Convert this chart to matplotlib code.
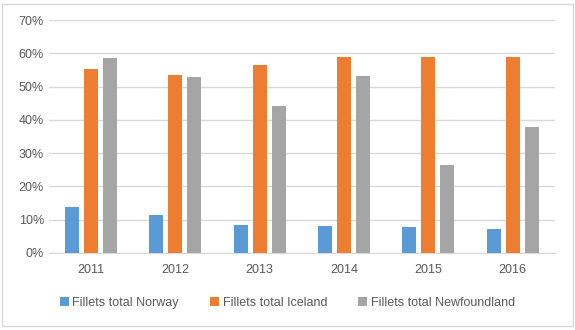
import matplotlib
matplotlib.use("Agg")
import matplotlib.pyplot as plt
import numpy as np
from matplotlib.patches import Rectangle

years = ["2011", "2012", "2013", "2014", "2015", "2016"]
norway = [13.8, 11.3, 8.3, 8.0, 7.8, 7.1]
iceland = [55.3, 53.5, 56.5, 58.8, 58.9, 58.9]
newfoundland = [58.5, 52.8, 44.2, 53.2, 26.4, 37.8]
series_names = ["Fillets total Norway", "Fillets total Iceland", "Fillets total Newfoundland"]
yticks = [0, 10, 20, 30, 40, 50, 60, 70]

colors = ["#5B9BD5", "#ED7D31", "#A5A5A5"]
plt.rcParams['font.family'] = ['Liberation Sans', 'DejaVu Sans']

fig = plt.figure(figsize=(5.75, 3.3), dpi=100)
ax = fig.add_axes([0.085, 0.234, 0.88, 0.705])

x = np.arange(len(years))
w = 0.166
step = 0.225
for i, (vals, name, c) in enumerate(zip([norway, iceland, newfoundland], series_names, colors)):
    ax.bar(x + (i - 1) * step, vals, width=w, color=c, label=name, zorder=3)

ax.set_xlim(-0.5, len(years) - 0.5)
ax.set_ylim(0, 70)
ax.set_yticks(yticks)
ax.set_yticklabels([f"{t}%" for t in yticks])
ax.set_xticks(x)
ax.set_xticklabels(years)
ax.yaxis.grid(True, color="#D9D9D9", linewidth=1, zorder=0)
for s in ["top", "right", "left"]:
    ax.spines[s].set_visible(False)
ax.spines["bottom"].set_color("#D9D9D9")
ax.tick_params(axis="both", length=0, colors="#595959", labelsize=9)
ax.tick_params(axis="x", pad=8)

leg = fig.legend(loc="center", bbox_to_anchor=(0.5, 0.083), ncol=3, frameon=False,
                 fontsize=9, handlelength=0.7, handleheight=0.7, columnspacing=2.5, handletextpad=0.3)
for t in leg.get_texts():
    t.set_color("#595959")

fig.patches.append(Rectangle((0.003, 0.012), 0.993, 0.976, transform=fig.transFigure,
                             fill=False, edgecolor="#D9D9D9", linewidth=1))

fig.savefig("out.png", dpi=100)
